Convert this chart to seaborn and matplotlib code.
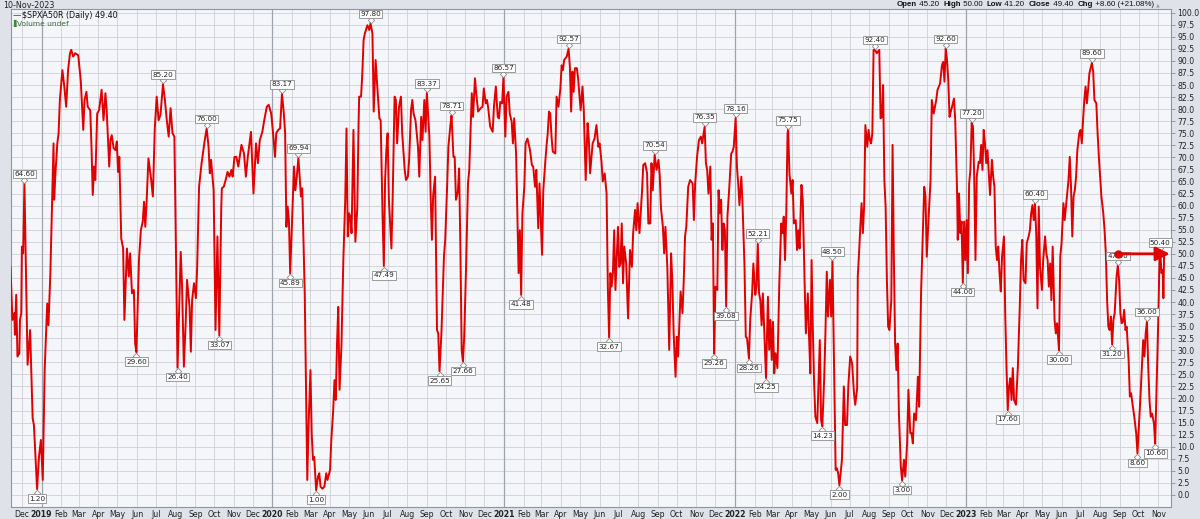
import numpy as np
import pandas as pd
import matplotlib
matplotlib.use("Agg")
import matplotlib.pyplot as plt
import matplotlib.transforms as mtransforms
import seaborn as sns

sns.set_theme(style="white")
plt.rcParams["font.family"] = ["DejaVu Sans"]

# ---------------- data: (days since 2019-01-01, % above 50-day MA) ----------------
seg_2019 = [(-49,47.3),(-46,36.3),(-43,37.7),(-42,33.2),(-40,41.5),(-38,28.7),(-35,29.4),(-34,36.3),
    (-32,37.7),(-31,51.5),(-29,50.1),(-27,64.6),(-24,41.8),(-22,27.0),(-18,34.2),(-14,15.9),(-12,14.5),
    (-7,1.2),(-4,7.9),(-1,11.4),(2,3.1),(5,25.9),(9,39.7),(11,35.2),(14,46.0),(19,72.9),(20,61.2),
    (22,66.7),(25,72.9),(27,75.0),(29,81.9),(33,88.1),(36,84.7),(39,80.5),(42,88.1),(45,91.6),(47,92.3),
    (50,90.9),(53,91.6),(58,91.2),(62,86.0),(66,75.7),(68,81.9),(71,83.6),(73,80.5),(77,79.8),(79,72.2),
    (81,62.2),(83,68.1),(85,65.3),(88,79.1),(91,79.8),(95,84.0),(98,77.7),(101,83.3),(103,79.8),
    (107,68.1),(109,73.6),(111,74.6),(114,71.9),(117,71.5),(119,73.3),(121,67.0),(123,70.1),(126,53.2),
    (129,51.1),(131,36.3),(135,51.1),(138,45.3),(140,50.1),(143,41.8),(146,42.5),(148,31.4),(150,29.6),
    (154,48.7),(157,54.9),(160,56.7),(162,60.8),(164,55.6),(166,60.5),(169,69.8),(173,65.7),(176,61.9),
    (179,76.0),(182,82.6),(185,77.7),(188,78.8),(192,85.2),(195,81.9),(198,77.7),(201,74.3),(204,80.2),
    (207,75.0),(210,74.3),(215,26.4),(220,50.4),(222,43.9),(225,26.6),(228,36.3),(230,44.6),(234,39.0),
    (236,29.7),(238,40.4),(241,43.9),(244,40.8),(246,47.3),(249,63.9),(253,68.8),(258,73.6),(261,76.0),
    (264,72.2),(266,66.7),(268,69.5),(272,63.2),(275,34.2),(278,53.6),(281,33.07),(284,59.1),(285,63.6),
    (288,63.9),(291,65.3),(294,67.0),(297,66.0),(300,67.4),(302,66.0),(305,70.1),(308,70.1),(311,68.1)]

seg_2020 = [(316,72.6),(320,70.8),(323,66.0),(326,70.1),(331,75.3),(335,62.5),(339,72.9),(342,68.8),
    (345,73.6),(349,75.3),(352,77.7),(356,80.5),(359,80.9),(363,79.1),(366,75.0),(369,70.1),(371,75.0),
    (374,75.7),(377,76.0),(380,83.17),(383,79.1),(385,75.0),(387,55.6),(389,59.8),(391,57.0),(393,45.89),
    (396,57.0),(399,68.1),(401,63.2),(403,65.3),(406,69.94),(408,66.0),(410,61.9),(412,63.6),(416,41.8),
    (418,23.2),(420,3.1),(422,14.2),(425,25.9),(427,12.8),(429,7.3),(431,7.9),(434,1.0),(437,3.8),
    (439,4.5),(441,1.7),(444,1.3),(447,1.7),(450,4.5),(452,3.1),(456,5.2),(458,11.4),(461,17.6),
    (463,23.8),(465,19.7),(467,31.4),(469,39.0),(471,21.8),(474,30.8),(477,48.7),(480,61.2),(482,76.0),
    (484,53.6),(486,58.4),(488,57.7),(490,54.3),(493,75.7),(496,52.5),(499,59.4),(501,76.4),(502,82.6),
    (505,82.6),(507,87.4),(509,94.3),(511,95.7),(515,97.4),(518,96.4),(520,97.8),(523,95.7),(525,79.5),
    (528,90.2),(530,86.0),(534,78.1),(536,77.7),(538,63.9),(539,57.7),(541,47.49),(543,65.3),(545,71.5),
    (547,75.0),(549,61.2),(553,51.1),(555,61.9),(558,82.6),(560,81.9),(562,72.9),(565,80.5),(568,82.6),
    (570,75.0),(574,67.4),(576,65.3),(579,66.0),(581,69.5),(584,79.8),(586,81.9),(588,79.1),(591,77.7),
    (595,72.2),(597,66.0),(600,78.4),(602,73.6),(605,81.9),(607,75.3),(609,83.37),(613,74.3),(615,61.9),
    (617,52.9),(619,62.2),(622,66.0),(625,34.2),(627,33.5),(629,25.65),(632,33.5),(634,41.8),(636,49.4),
    (638,52.9),(641,63.9),(643,72.2),(646,76.4),(648,78.71),(651,70.1),(653,70.1),(655,61.2),(658,62.9),
    (660,67.7),(662,50.8),(664,30.1),(666,27.66),(668,32.8),(671,47.3),(674,64.6),(676,67.4)]

seg_2021 = [(680,83.3),(682,78.4),(685,86.4),(687,83.3),(690,79.5),(694,80.2),(697,80.5),(699,84.3),
    (702,81.2),(704,81.9),(706,80.2),(709,76.4),(713,75.3),(715,80.5),(718,84.7),(721,78.4),(723,78.1),
    (725,81.5),(728,81.2),(730,86.57),(733,74.3),(735,82.6),(738,83.6),(740,79.1),(743,77.4),(745,72.9),
    (747,78.1),(750,70.8),(754,46.0),(756,54.9),(758,41.48),(760,58.4),(763,63.9),(765,72.9),(768,73.9),
    (772,71.5),(775,68.4),(777,68.1),(780,63.9),(782,67.4),(785,55.3),(787,64.6),(791,49.8),(793,63.2),
    (796,68.8),(798,72.2),(800,75.0),(802,79.5),(804,79.1),(806,74.3),(808,71.2),(812,70.8),(814,82.6),
    (817,80.5),(820,84.3),(822,89.1),(824,88.1),(826,90.2),(830,90.9),(833,92.57),(835,88.8),(837,79.5),
    (839,87.8),(841,83.6),(843,88.5),(846,88.5),(848,86.4),(852,79.8),(855,84.7),(857,79.8),(860,65.3),
    (863,77.1),(865,73.6),(867,66.7),(871,72.9),(874,73.9),(877,76.7),(880,72.2),(882,72.9),(885,69.1),
    (887,65.0),(890,66.7),(893,62.5),(895,43.2),(897,32.67),(899,46.0),(901,43.2),(903,46.0),(905,54.9),
    (907,42.5),(911,55.6),(913,47.3),(915,48.0),(917,56.3),(919,43.9),(921,51.5),(924,48.0),(927,36.6),
    (930,50.8),(933,47.3),(935,54.3),(938,59.1),(940,54.9),(942,60.5),(945,54.3),(949,62.9),(951,68.4),
    (954,68.8),(957,66.7),(959,56.3),(962,56.3),(964,68.8),(966,63.2),(969,70.54),(972,67.4),(975,69.5),
    (977,66.3),(979,59.4),(982,55.6),(984,50.1),(986,55.6),(989,47.3),(992,30.1),(995,50.1),(997,43.9),
    (999,33.5),(1002,24.5),(1004,32.8),(1006,28.7),(1010,42.2),(1013,37.7),(1015,44.6),(1017,53.6),
    (1019,55.6),(1022,63.9),(1025,65.3),(1029,64.6),(1031,57.0),(1033,64.6),(1036,70.1),(1039,73.6),
    (1042,74.3),(1044,72.9),(1048,76.35)]

seg_2022 = [(1050,68.8),(1052,67.4),(1054,62.5),(1057,68.1),(1059,52.9),(1061,56.3),(1063,29.26),
    (1065,43.2),(1068,42.5),(1070,63.2),(1072,58.4),(1074,61.2),(1076,50.8),(1078,56.3),(1080,54.9),
    (1082,39.08),(1084,57.7),(1087,63.9),(1090,70.8),(1092,71.2),(1094,72.2),(1097,78.16),(1099,68.1),
    (1101,64.6),(1103,60.1),(1106,66.0),(1108,59.8),(1111,47.3),(1113,32.8),(1115,32.5),(1118,28.26),
    (1120,36.3),(1123,41.8),(1125,48.0),(1128,41.5),(1130,43.2),(1132,52.21),(1134,41.8),(1136,40.4),
    (1138,35.2),(1140,41.8),(1142,34.6),(1145,24.25),(1148,41.1),(1150,30.1),(1152,36.3),(1154,28.0),
    (1156,35.9),(1158,25.2),(1160,29.4),(1163,26.3),(1166,43.9),(1169,56.3),(1171,54.3),(1173,57.7),
    (1175,48.7),(1177,58.4),(1179,75.0),(1180,75.75),(1182,66.7),(1185,62.5),(1187,65.3),(1189,56.3),
    (1192,57.0),(1194,50.8),(1196,54.9),(1198,51.1),(1201,64.3),(1203,61.2),(1206,43.9),(1208,33.5),
    (1211,41.8),(1213,32.8),(1215,25.2),(1217,48.7),(1219,34.2),(1221,23.2),(1223,16.2),(1226,14.9),
    (1228,23.2),(1230,32.1),(1232,15.5),(1234,14.23),(1237,24.5),(1239,34.2),(1241,46.3),(1243,37.0),
    (1246,44.6),(1248,37.0),(1250,48.5),(1253,23.2),(1255,5.2),(1257,5.5),(1259,4.5),(1261,2.0),
    (1265,7.3),(1268,22.5),(1270,14.5),(1273,14.5),(1275,22.5),(1278,28.7),(1281,27.3),(1284,21.1),
    (1286,18.7),(1289,22.1),(1290,45.3),(1292,50.1),(1294,55.6),(1296,60.5),(1298,54.3),(1300,59.8),
    (1302,76.7),(1305,72.2),(1307,75.7),(1309,73.6),(1311,72.9),(1313,75.0),(1315,92.3),(1317,92.4),
    (1320,91.6),(1324,92.3),(1326,78.1),(1328,78.4),(1330,85.0),(1332,65.3),(1334,59.8),(1336,44.6),
    (1338,34.9),(1340,34.2),(1343,40.4),(1345,72.6),(1347,49.4),(1349,31.4),(1351,25.9),(1353,31.4),
    (1355,16.9),(1358,5.9),(1360,3.0),(1363,7.3),(1365,3.8),(1368,10.7),(1370,21.8),(1373,12.8),
    (1375,12.8),(1377,10.7),(1379,16.9),(1382,15.5),(1385,24.5),(1387,18.3),(1390,41.8),(1392,50.8),
    (1395,63.9),(1397,61.9),(1399,49.4),(1402,57.7),(1405,65.3),(1407,81.9),(1410,79.1),(1412,80.5),
    (1414,81.9),(1416,84.0)]

seg_2023 = [(1420,85.3),(1423,89.1),(1425,89.8),(1427,85.7),(1429,92.6),(1431,90.2),(1433,86.0),
    (1435,78.4),(1437,79.5),(1439,80.5),(1442,82.2),(1444,77.7),(1447,62.5),(1448,52.9),(1450,62.5),
    (1452,54.3),(1454,56.7),(1456,44.0),(1458,56.7),(1460,48.7),(1462,57.0),(1464,46.0),(1466,64.6),
    (1468,67.4),(1470,77.2),(1472,76.4),(1474,66.0),(1476,48.7),(1478,66.0),(1481,69.1),(1483,68.8),
    (1485,72.6),(1487,67.4),(1489,75.7),(1491,72.9),(1493,68.8),(1495,71.5),(1497,66.7),(1499,62.2),
    (1502,69.5),(1504,66.0),(1506,63.9),(1508,51.5),(1510,48.7),(1512,51.5),(1514,46.0),(1516,42.2),
    (1518,49.4),(1521,53.6),(1523,37.7),(1525,26.6),(1527,17.6),(1529,22.5),(1531,24.2),(1533,19.7),
    (1535,26.3),(1537,19.7),(1540,18.7),(1543,26.6),(1546,39.0),(1548,48.7),(1550,52.9),(1552,44.6),
    (1555,43.9),(1557,52.2),(1560,53.6),(1562,54.9),(1564,58.4),(1566,60.1),(1568,57.0),(1570,60.4),
    (1572,54.3),(1574,38.7),(1576,59.8),(1578,47.3),(1581,42.5),(1583,48.7),(1586,53.6),(1588,50.1),
    (1590,48.7),(1592,43.2),(1594,48.0),(1596,40.4),(1598,51.5),(1601,36.3),(1603,33.5),(1605,35.6),
    (1608,30.0),(1610,49.4),(1612,52.2),(1615,60.5),(1617,57.0),(1621,62.5),(1623,65.3),(1625,70.1),
    (1627,63.9),(1629,53.6),(1631,61.9),(1633,63.2),(1635,66.0),(1637,71.5),(1640,75.0),(1642,75.7),
    (1644,72.9),(1646,77.7),(1648,81.9),(1650,84.7),(1652,81.2),(1654,84.0),(1656,87.4),(1660,89.6),
    (1662,87.8),(1664,81.9),(1667,81.2),(1669,75.0),(1671,70.1),(1673,66.0),(1675,61.9),(1678,58.4),
    (1680,54.9),(1682,50.1),(1684,40.4),(1686,34.9),(1688,34.2),(1690,37.0),(1692,31.2),(1694,36.3),
    (1696,37.7),(1699,45.3),(1701,47.6),(1703,44.6),(1705,37.7),(1707,35.6),(1709,35.9),(1711,38.4),
    (1713,34.2),(1715,34.9),(1718,28.0),(1720,20.4),(1722,21.1),(1724,19.0),(1727,16.2),(1730,12.8),
    (1732,8.6),(1734,13.5),(1737,21.1),(1739,26.6),(1741,32.1),(1743,28.7),(1745,33.5),(1747,36.0),
    (1749,26.6),(1751,19.7),(1753,16.2),(1755,16.9),(1758,14.9),(1760,10.6),(1763,26.6),(1765,37.0),
    (1767,50.1),(1768,50.4),(1770,46.0),(1772,46.6),(1773,40.8),(1774,49.4)]

# labelled swing points (day, kind)
label_days_hi = [-27, 192, 261, 380, 406, 520, 609, 648, 730, 833, 969, 1048, 1097, 1132, 1180,
                 1250, 1317, 1429, 1470, 1570, 1660, 1701, 1747, 1768]
label_days_lo = [-7, 150, 215, 281, 393, 434, 541, 629, 666, 758, 897, 1063, 1082, 1118, 1145,
                 1234, 1261, 1360, 1456, 1527, 1608, 1692, 1732, 1760]

# horizontal arrow annotation (start day, level, end day)
arrow_start_day, arrow_level, arrow_end_day = 1702, 50.0, 1783

header_date = "10-Nov-2023"
series_name = r"\$SPXA50R (Daily) 49.40"
ohlc = [("Open", "bold"), (" 45.20  ", "normal"), ("High", "bold"), (" 50.00  ", "normal"),
        ("Low", "bold"), (" 41.20  ", "normal"), ("Close", "bold"), (" 49.40  ", "normal"),
        ("Chg", "bold"), (" +8.60 (+21.08%) ", "normal")]

y_ticks = np.arange(0, 100.01, 2.5)
x_start, x_end = -49, 1785

# ---------------- build frame ----------------
base = pd.Timestamp("2019-01-01")
df = pd.DataFrame(seg_2019 + seg_2020 + seg_2021 + seg_2022 + seg_2023, columns=["day", "value"])
df["date"] = base + pd.to_timedelta(df["day"], unit="D")

FIG_BG = "#dfe2e8"
PLOT_BG = "#f5f6f9"
GRID = "#cdd1d8"
YEARLINE = "#9ea4ae"
RED = "#e00000"

W, H = 1200, 519
fig = plt.figure(figsize=(W / 100, H / 100), dpi=100, facecolor=FIG_BG)
ax = fig.add_axes([10.5 / W, 1 - 507 / H, (1171 - 10.5) / W, (507 - 9) / H])
ax.set_facecolor(PLOT_BG)

sns.lineplot(data=df, x="date", y="value", ax=ax, color=RED, linewidth=1.4,
             estimator=None, sort=False, legend=False, zorder=3)

ax.set_xlim(base + pd.Timedelta(days=x_start), base + pd.Timedelta(days=x_end))
ax.set_ylim(-2.5, 100.77)

# x ticks at month starts
months = pd.date_range("2018-12-01", "2023-11-01", freq="MS")
ax.set_xticks(months)
ax.set_xticklabels([str(m.year) if m.month == 1 else m.strftime("%b") for m in months])
for lab, m in zip(ax.get_xticklabels(), months):
    if m.month == 1:
        lab.set_fontweight("bold")
ax.tick_params(axis="x", length=0, labelsize=5.6, pad=2.5, labelcolor="#222222")

ax.set_yticks(y_ticks)
ax.set_yticklabels([f"{v:.1f}" for v in y_ticks])
ax.yaxis.tick_right()
ax.tick_params(axis="y", length=3, width=0.6, color="#8a8f98", labelsize=5.6, pad=1.5,
               labelcolor="#222222", right=True, left=False)
ax.set_xlabel("")
ax.set_ylabel("")

ax.grid(True, color=GRID, linewidth=0.6)
ax.set_axisbelow(True)
for m in months[months.month == 1]:
    ax.axvline(m, color=YEARLINE, linewidth=0.9, zorder=1)
for s in ax.spines.values():
    s.set_color("#9096a0")
    s.set_linewidth(0.8)

# swing labels
def add_label(day, hi):
    row = df.loc[df["day"] == day].iloc[0]
    dt, v = row["date"], row["value"]
    sgn = 1 if hi else -1
    off = mtransforms.offset_copy(ax.transData, fig=fig, x=0, y=sgn * 2.6, units="points")
    ax.plot([dt], [v], marker="D", ms=3.2, mfc="white", mec="#8c8c8c", mew=0.6,
            transform=off, zorder=5, clip_on=False)
    ax.annotate(f"{v:.2f}", xy=(dt, v), xytext=(0, sgn * 4.6), textcoords="offset points",
                ha="center", va="bottom" if hi else "top", fontsize=5.2, color="#222222",
                bbox=dict(boxstyle="square,pad=0.18", fc="white", ec="#8c8c8c", lw=0.6),
                zorder=6, annotation_clip=False)

for d in label_days_hi:
    add_label(d, True)
for d in label_days_lo:
    add_label(d, False)

# red arrow
a0 = base + pd.Timedelta(days=arrow_start_day)
a1 = base + pd.Timedelta(days=arrow_end_day)
ax.annotate("", xy=(a1, arrow_level), xytext=(a0, arrow_level),
            arrowprops=dict(arrowstyle="-|>,head_length=0.7,head_width=0.35", color=RED, lw=2.0,
                            shrinkA=0, shrinkB=0), annotation_clip=False, zorder=7)
ax.plot([a0], [arrow_level], marker="o", ms=5, color=RED, zorder=7)

# header texts
fig.text(3 / W, 1 - 5 / H, header_date, fontsize=5.8, va="center", ha="left", color="#222222")
fig.text(13 / W, 1 - 15.5 / H, "\u2014", fontsize=6, va="center", ha="left", color=RED)
fig.text(22 / W, 1 - 15.5 / H, series_name, fontsize=5.8, va="center", ha="left", color="#111111")
fig.text(13 / W, 1 - 23.5 / H, "\u258c", fontsize=5, va="center", ha="left", color="#3b8a3b")
fig.text(17 / W, 1 - 23.5 / H, "Volume undef", fontsize=5.4, va="center", ha="left", color="#3b6b3b")

fig.canvas.draw()
r = fig.canvas.get_renderer()
hdr_font = ["Liberation Sans", "DejaVu Sans"]
pieces = []
total = 0.0
for s, w in ohlc:
    t = fig.text(0, 1 - 5 / H, s, fontsize=5.7, fontweight=w, va="center", ha="left",
                 color="#111111", family=hdr_font)
    wpx = t.get_window_extent(renderer=r).width
    pieces.append((t, wpx))
    total += wpx
x = 1156 - total
for t, wpx in pieces:
    t.set_x(x / W)
    x += wpx
fig.text(x / W, 1 - 4.5 / H, "\u25b2", fontsize=3.5, va="center", ha="left", color="#9aa0a8")

fig.savefig("out.png", dpi=100, facecolor=FIG_BG)
